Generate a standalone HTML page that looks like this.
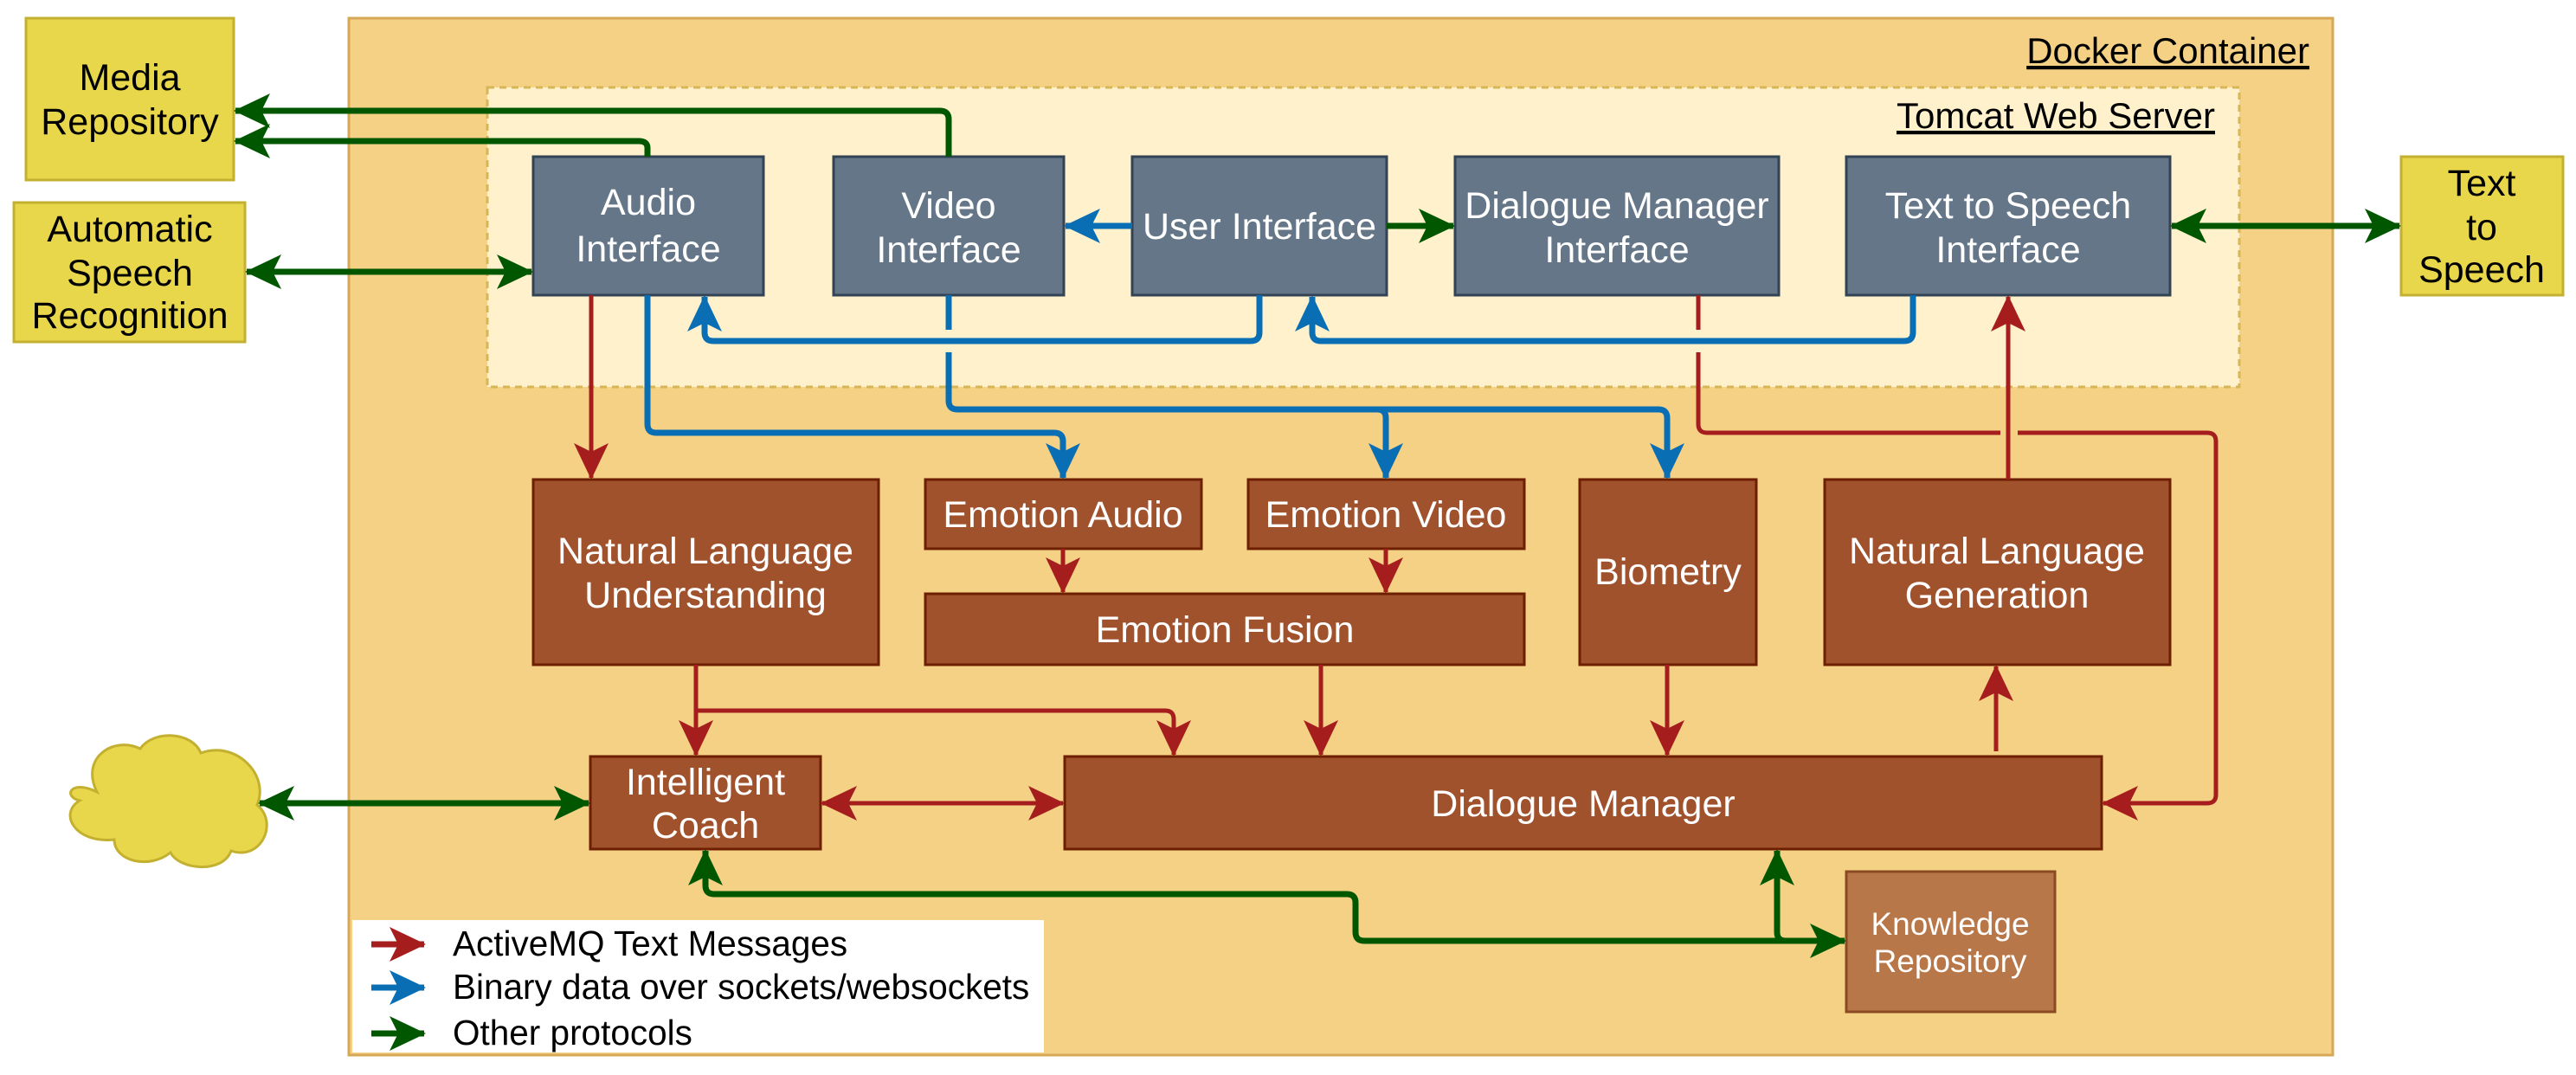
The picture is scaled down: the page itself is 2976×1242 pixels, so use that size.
<!DOCTYPE html>
<html><head><meta charset="utf-8"><style>
html,body{margin:0;padding:0;background:#fff;}
svg{display:block;}
text{font-family:"Liberation Sans",sans-serif;}
</style></head><body>
<svg width="2976" height="1242" viewBox="0 0 2976 1242" xmlns="http://www.w3.org/2000/svg">
<defs>
<marker id="ar" viewBox="0 0 42 40" refX="40" refY="20" markerWidth="42" markerHeight="40" markerUnits="userSpaceOnUse" orient="auto-start-reverse"><path d="M42,20 L0,0 L10,20 L0,40 Z" fill="#a51d1d"/></marker>
<marker id="ab" viewBox="0 0 42 40" refX="40" refY="20" markerWidth="42" markerHeight="40" markerUnits="userSpaceOnUse" orient="auto-start-reverse"><path d="M42,20 L0,0 L10,20 L0,40 Z" fill="#0a6eb4"/></marker>
<marker id="ag" viewBox="0 0 42 40" refX="40" refY="20" markerWidth="42" markerHeight="40" markerUnits="userSpaceOnUse" orient="auto-start-reverse"><path d="M42,20 L0,0 L10,20 L0,40 Z" fill="#005700"/></marker>
</defs>

<rect x="403" y="21" width="2292" height="1198" fill="#f5d186" stroke="#d6a856" stroke-width="3"/>
<text x="2668" y="73" font-size="42" text-anchor="end" fill="#000" text-decoration="underline">Docker Container</text>

<rect x="563" y="101" width="2024" height="346" fill="#fff1cc" stroke="#d6b656" stroke-width="3" stroke-dasharray="8,6"/>
<text x="2559" y="148" font-size="42" text-anchor="end" fill="#000" text-decoration="underline">Tomcat Web Server</text>

<g fill="#e8d74b" stroke="#c4b030" stroke-width="3">
<rect x="30" y="21" width="240" height="187"/>
<rect x="16" y="234" width="267" height="161"/>
<rect x="2774" y="181" width="187" height="160"/>
<path d="M120,920 C100,880 140,855 170,870 C185,848 230,850 240,875 C280,860 320,900 305,935 C330,955 310,1000 275,988 C265,1015 215,1010 205,990 C180,1010 140,1000 140,975 C95,980 75,945 100,930 C80,925 90,905 120,920 Z" transform="translate(-8,-5)"/>
</g>
<g font-size="43" fill="#000" text-anchor="middle">
<text x="150" y="104">Media</text><text x="150" y="155">Repository</text>
<text x="150" y="279">Automatic</text><text x="150" y="330">Speech</text><text x="150" y="379">Recognition</text>
<text x="2867" y="226">Text</text><text x="2867" y="277">to</text><text x="2867" y="326">Speech</text>
</g>

<g fill="#647687" stroke="#314354" stroke-width="3">
<rect x="616" y="181" width="266" height="160"/>
<rect x="963" y="181" width="266" height="160"/>
<rect x="1308" y="181" width="294" height="160"/>
<rect x="1681" y="181" width="374" height="160"/>
<rect x="2133" y="181" width="374" height="160"/>
</g>
<g font-size="43" fill="#fff" text-anchor="middle">
<text x="749" y="248">Audio</text><text x="749" y="302">Interface</text>
<text x="1096" y="252">Video</text><text x="1096" y="303">Interface</text>
<text x="1455" y="276">User Interface</text>
<text x="1868" y="252">Dialogue Manager</text><text x="1868" y="303">Interface</text>
<text x="2320" y="252">Text to Speech</text><text x="2320" y="303">Interface</text>
</g>

<g fill="#a0522d" stroke="#6d1f00" stroke-width="3">
<rect x="616" y="554" width="399" height="214"/>
<rect x="1069" y="554" width="319" height="80"/>
<rect x="1442" y="554" width="319" height="80"/>
<rect x="1069" y="686" width="692" height="82"/>
<rect x="1825" y="554" width="204" height="214"/>
<rect x="2108" y="554" width="399" height="214"/>
<rect x="682" y="874" width="266" height="107"/>
<rect x="1230" y="874" width="1198" height="107"/>
</g>
<rect x="2133" y="1007" width="241" height="162" fill="#b87748" stroke="#8a4a22" stroke-width="3"/>
<g font-size="43" fill="#fff" text-anchor="middle">
<text x="815" y="651">Natural Language</text><text x="815" y="702">Understanding</text>
<text x="1228" y="609">Emotion Audio</text>
<text x="1601" y="609">Emotion Video</text>
<text x="1415" y="742">Emotion Fusion</text>
<text x="1927" y="675">Biometry</text>
<text x="2307" y="651">Natural Language</text><text x="2307" y="702">Generation</text>
<text x="815" y="918">Intelligent</text><text x="815" y="968">Coach</text>
<text x="1829" y="943">Dialogue Manager</text>
<text x="2253" y="1080" font-size="37">Knowledge</text><text x="2253" y="1123" font-size="37">Repository</text>
</g>

<g fill="none" stroke="#005700" stroke-width="7" stroke-linejoin="round">
<path d="M1096,181 L1096,138 Q1096,128 1086,128 L272,128" marker-end="url(#ag)"/>
<path d="M748,181 L748,171 Q748,163 738,163 L272,163" marker-end="url(#ag)"/>
<path d="M285,314 L614,314" marker-start="url(#ag)" marker-end="url(#ag)"/>
<path d="M1602,261 L1679,261" marker-end="url(#ag)"/>
<path d="M2509,261 L2772,261" marker-start="url(#ag)" marker-end="url(#ag)"/>
<path d="M300,928 L680,928" marker-start="url(#ag)" marker-end="url(#ag)"/>
<path d="M815,983 L815,1023 Q815,1033 825,1033 L1556,1033 Q1566,1033 1566,1043 L1566,1077 Q1566,1087 1576,1087 L2131,1087" marker-start="url(#ag)" marker-end="url(#ag)"/>
<path d="M2053,983 L2053,1077 Q2053,1087 2063,1087" marker-start="url(#ag)"/>
</g>

<g fill="none" stroke="#0a6eb4" stroke-width="7" stroke-linejoin="round">
<path d="M1308,261 L1231,261" marker-end="url(#ab)"/>
<path d="M1455,341 L1455,384 Q1455,394 1445,394 L824,394 Q814,394 814,384 L814,343" marker-end="url(#ab)"/>
<path d="M2210,341 L2210,384 Q2210,394 2200,394 L1526,394 Q1516,394 1516,384 L1516,343" marker-end="url(#ab)"/>
<path d="M748,341 L748,490 Q748,500 758,500 L1218,500 Q1228,500 1228,510 L1228,552" marker-end="url(#ab)"/>
<path d="M1096,341 L1096,381"/>
<path d="M1096,407 L1096,463 Q1096,473 1106,473 L1591,473 Q1601,473 1601,483 L1601,552" marker-end="url(#ab)"/>
<path d="M1590,473 L1916,473 Q1926,473 1926,483 L1926,552" marker-end="url(#ab)"/>
</g>

<g fill="none" stroke="#a51d1d" stroke-width="5" stroke-linejoin="round">
<path d="M683,341 L683,552" marker-end="url(#ar)"/>
<path d="M1962,341 L1962,381"/>
<path d="M1962,407 L1962,490 Q1962,500 1972,500 L2311,500"/>
<path d="M2331,500 L2550,500 Q2560,500 2560,510 L2560,918 Q2560,928 2550,928 L2430,928" marker-end="url(#ar)"/>
<path d="M2320,554 L2320,343" marker-end="url(#ar)"/>
<path d="M1228,634 L1228,684" marker-end="url(#ar)"/>
<path d="M1601,634 L1601,684" marker-end="url(#ar)"/>
<path d="M1526,768 L1526,872" marker-end="url(#ar)"/>
<path d="M1926,768 L1926,872" marker-end="url(#ar)"/>
<path d="M2306,868 L2306,770" marker-end="url(#ar)"/>
<path d="M804,768 L804,872" marker-end="url(#ar)"/>
<path d="M804,821 L1346,821 Q1356,821 1356,831 L1356,872" marker-end="url(#ar)"/>
<path d="M950,928 L1228,928" marker-start="url(#ar)" marker-end="url(#ar)"/>
</g>

<rect x="407" y="1063" width="799" height="153" fill="#fff"/>
<line x1="429" y1="1091" x2="490" y2="1091" stroke="#a51d1d" stroke-width="7" marker-end="url(#ar)"/>
<line x1="429" y1="1141" x2="490" y2="1141" stroke="#0a6eb4" stroke-width="7" marker-end="url(#ab)"/>
<line x1="429" y1="1194" x2="490" y2="1194" stroke="#005700" stroke-width="7" marker-end="url(#ag)"/>
<g font-size="40.5" fill="#000">
<text x="523" y="1104">ActiveMQ Text Messages</text>
<text x="523" y="1154">Binary data over sockets/websockets</text>
<text x="523" y="1207">Other protocols</text>
</g>
</svg>
</body></html>
